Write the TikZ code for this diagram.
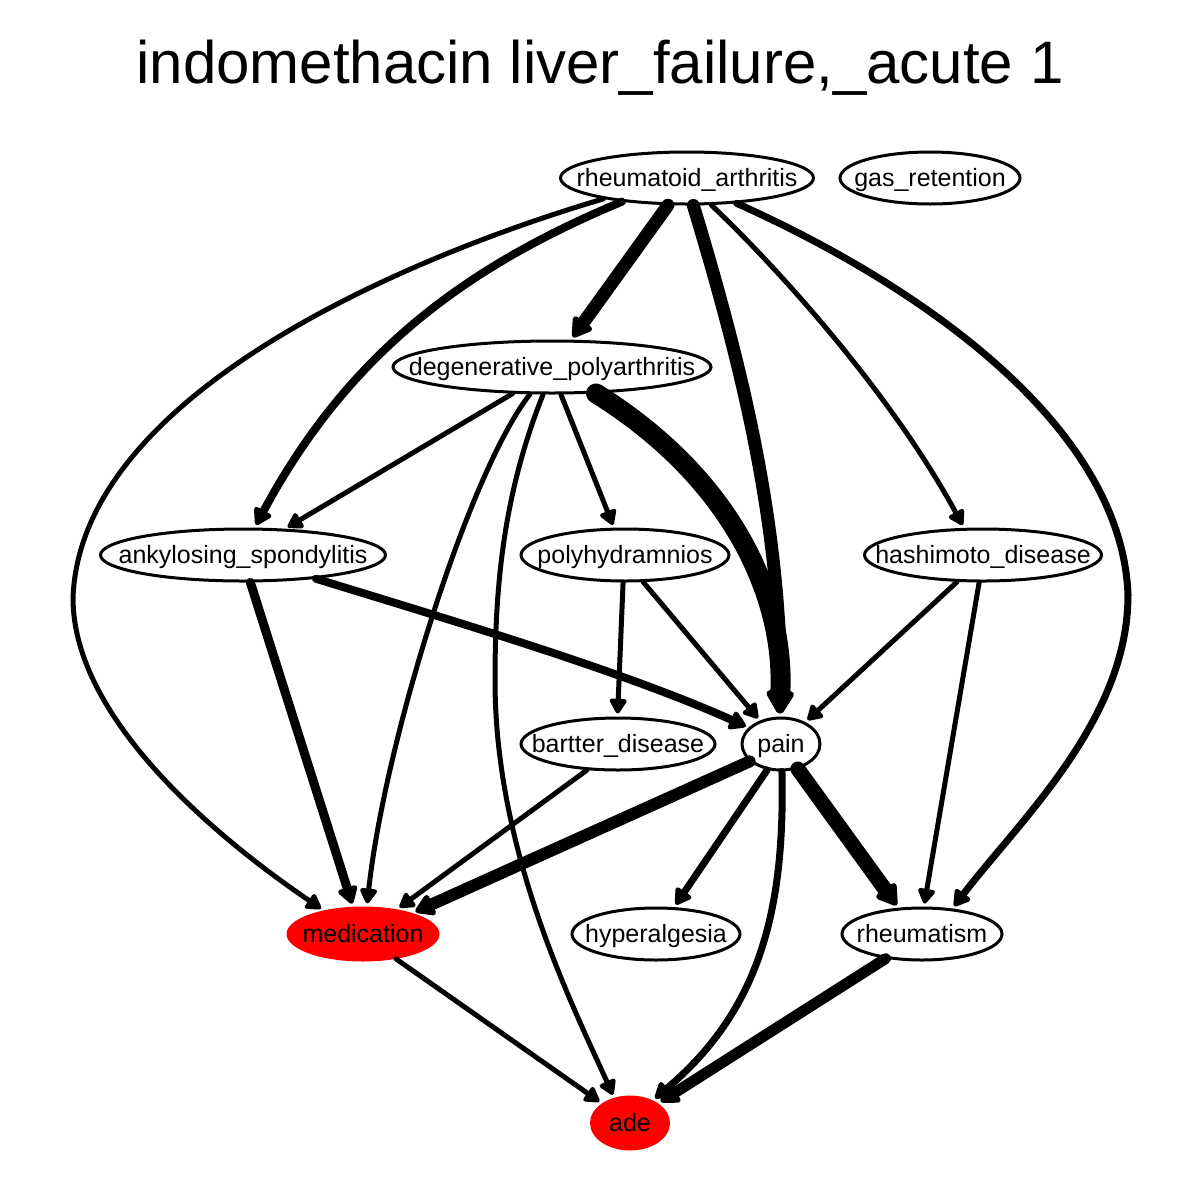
\documentclass[tikz,border=0pt]{standalone}
\usepackage{fontspec}
\setmainfont{Liberation Sans}
\usetikzlibrary{shapes.geometric,arrows.meta}
\newcommand{\lbl}[1]{\makebox[0pt]{\raisebox{-0.34em}[0pt][0pt]{#1}}}
\begin{document}
\begin{tikzpicture}[x=1pt,y=-1pt,
  nd/.style={ellipse,draw=black,line width=3pt,fill=white,inner sep=0pt,minimum height=52pt,font=\fontsize{25}{30}\selectfont},
  rd/.style={ellipse,draw=none,fill=red,inner sep=0pt,minimum height=55pt,font=\fontsize{25}{30}\selectfont},
  ed/.style={line width=#1,line cap=round,line join=round,-{Triangle[length=14pt 0.6,width=15pt 0.8,round]},shorten >=3pt},
  ed/.default=5pt]
\useasboundingbox (0,0) rectangle (1200,1200);
\node[font=\fontsize{60}{68}\selectfont,anchor=base] (title) at (600,83) {indomethacin liver\_failure,\_acute 1};
\node[nd,minimum width=253pt] (ra) at (687,178) {\lbl{rheumatoid\_arthritis}};
\node[nd,minimum width=180pt] (gas) at (930,178) {\lbl{gas\_retention}};
\node[nd,minimum width=318pt] (deg) at (552,367) {\lbl{degenerative\_polyarthritis}};
\node[nd,minimum width=285pt] (ank) at (243,555) {\lbl{ankylosing\_spondylitis}};
\node[nd,minimum width=208pt] (poly) at (625,555) {\lbl{polyhydramnios}};
\node[nd,minimum width=237pt] (hash) at (983,555) {\lbl{hashimoto\_disease}};
\node[nd,minimum width=194pt] (bart) at (618,744) {\lbl{bartter\_disease}};
\node[nd,minimum width=78pt] (pain) at (781,744) {\lbl{pain}};
\node[rd,minimum width=153pt] (med) at (363,934) {\lbl{medication}};
\node[nd,minimum width=168pt] (hyp) at (656,934) {\lbl{hyperalgesia}};
\node[nd,minimum width=160pt] (rheu) at (922,934) {\lbl{rheumatism}};
\node[rd,minimum width=80pt] (ade) at (630,1123) {\lbl{ade}};
\coordinate (k1) at (73,598);
\coordinate (k6) at (1128,595);
\coordinate (k9) at (495,680);
\draw[ed] (ra.194) .. controls (390,262) and (80,400) .. (k1) .. controls (73,720) and (220,840) .. (med.149);
\draw[ed=8pt] (ra.200) .. controls (470,265) and (350,350) .. (ank.67);
\draw[ed=13pt] (ra.235) -- (deg.55);
\draw[ed=13pt] (ra.283) .. controls (740,360) and (781,520) .. (pain.90);
\draw[ed] (ra.312) .. controls (785,275) and (895,400) .. (hash.125);
\draw[ed=7pt] (ra.333) .. controls (930,290) and (1122,430) .. (k6) .. controls (1128,720) and (1020,820) .. (rheu.40);
\draw[ed] (deg.214) -- (ank.32);
\draw[ed] (deg.231) .. controls (470,470) and (385,740) .. (med.82);
\draw[ed] (deg.252) .. controls (505,490) and (495,580) .. (k9) .. controls (495,850) and (570,1000) .. (ade.122);
\draw[ed] (deg.288) -- (poly.112);
\draw[ed=20pt] (deg.329) .. controls (735,480) and (785,600) .. (pain.94);
\draw[ed=9pt] (ank.285) -- (med.110);
\draw[ed=8pt] (ank.342) .. controls (450,620) and (620,670) .. (pain.153);
\draw[ed] (poly.266) -- (bart.91);
\draw[ed] (poly.304) -- (pain.132);
\draw[ed] (hash.226) -- (pain.42);
\draw[ed] (hash.262) -- (rheu.86);
\draw[ed] (bart.220) -- (med.36);
\draw[ed=12pt] (pain.209) -- (med.23);
\draw[ed=7pt] (pain.242) -- (hyp.56);
\draw[ed=7pt] (pain.272) .. controls (785,910) and (760,1010) .. (ade.45);
\draw[ed=15pt] (pain.304) -- (rheu.132);
\draw[ed] (med.323) -- (ade.145);
\draw[ed=11pt] (rheu.214) -- (ade.35);
\end{tikzpicture}
\end{document}
